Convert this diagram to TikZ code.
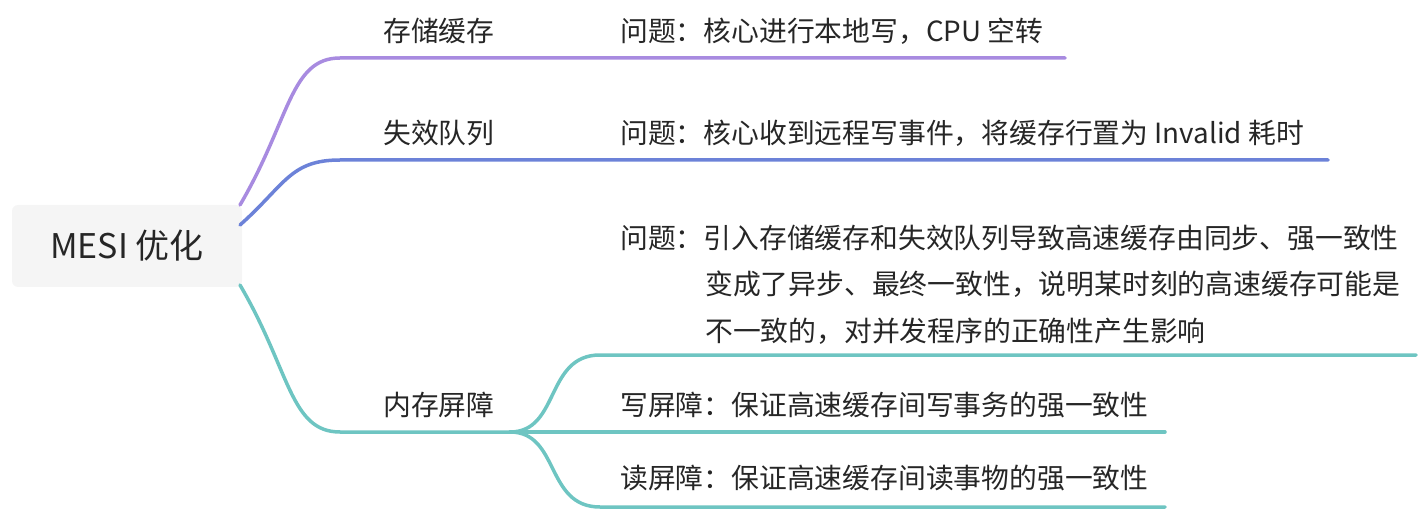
\documentclass[tikz,border=0pt]{standalone}
\usepackage{fontspec}
\setmainfont{Noto Sans CJK SC}
\begin{document}
\begin{tikzpicture}[x=1pt,y=-1pt,
  lbl/.style={anchor=west,inner sep=0pt,font=\fontsize{27.8}{32}\selectfont,text=black!85},
  br/.style={line width=3.5pt,line cap=round}]
\definecolor{cp}{HTML}{A88BE0}
\definecolor{cb}{HTML}{6C82D8}
\definecolor{ct}{HTML}{6EC5C2}
\useasboundingbox (0,0) rectangle (1426,510);
\node[fill=black!4,rounded corners=6pt,minimum width=230pt,minimum height=82pt,
  font=\fontsize{34}{38}\selectfont,text=black!85] (root) at (127,246) {MESI 优化};
% branch 1
\coordinate (r1) at (240,205);
\coordinate (a1) at (340,58);
\coordinate (e1) at (1065,58);
\draw[br,cp] (r1) .. controls (290,120) and (290,58) .. (a1) -- (e1);
\node[lbl] (t1) at (383,31) {存储缓存};
\node[lbl] (c1) at (620,31) {问题：核心进行本地写，CPU 空转};
% branch 2
\coordinate (r2) at (240,225);
\coordinate (a2) at (340,160);
\coordinate (e2) at (1328,160);
\draw[br,cb] (r2) .. controls (285,185) and (290,160) .. (a2) -- (e2);
\node[lbl] (t2) at (383,133) {失效队列};
\node[lbl] (c2) at (620,133) {问题：核心收到远程写事件，将缓存行置为 Invalid 耗时};
% branch 3
\coordinate (r3) at (240,285);
\coordinate (a3) at (340,432);
\coordinate (h3) at (510,432);
\draw[br,ct] (r3) .. controls (290,370) and (290,432) .. (a3) -- (h3);
\node[lbl] (t3) at (383,405) {内存屏障};
\coordinate (k1) at (600,355);
\coordinate (f1) at (1416,355);
\coordinate (k2) at (600,432);
\coordinate (f2) at (1165,432);
\coordinate (k3) at (600,507);
\coordinate (f3) at (1165,507);
\draw[br,ct] (h3) .. controls (560,432) and (545,355) .. (k1) -- (f1);
\draw[br,ct] (h3) -- (f2);
\draw[br,ct] (h3) .. controls (560,432) and (545,507) .. (k3) -- (f3);
\node[lbl] (d1) at (620,238) {问题：引入存储缓存和失效队列导致高速缓存由同步、强一致性};
\node[lbl] (d2) at (705,284) {变成了异步、最终一致性，说明某时刻的高速缓存可能是};
\node[lbl] (d3) at (705,331) {不一致的，对并发程序的正确性产生影响};
\node[lbl] (d4) at (620,405) {写屏障：保证高速缓存间写事务的强一致性};
\node[lbl] (d5) at (620,478) {读屏障：保证高速缓存间读事物的强一致性};
\end{tikzpicture}
\end{document}
